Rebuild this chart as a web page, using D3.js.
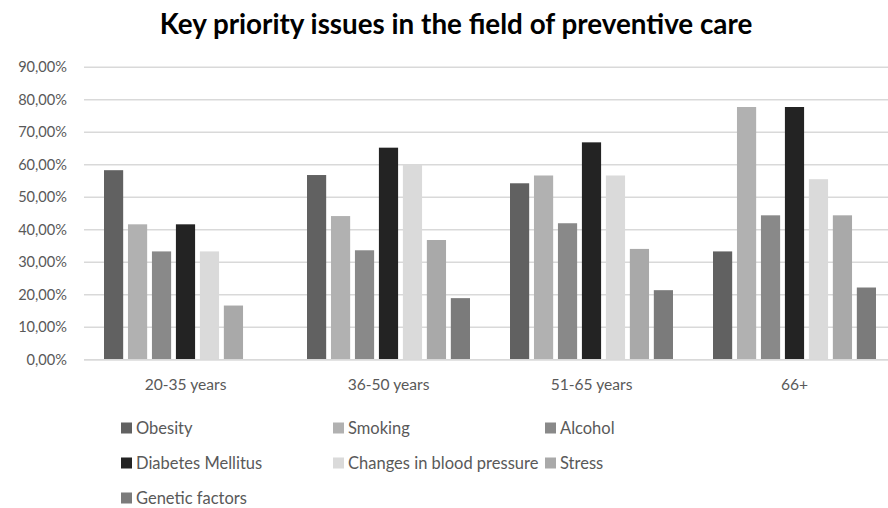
<!DOCTYPE html>
<html>
<head>
<meta charset="utf-8">
<script src="https://cdn.jsdelivr.net/npm/d3@7"></script>
<style>
  html, body { margin: 0; padding: 0; background: #fff; }
  svg { display: block; font-family: Lato, "Noto Sans", sans-serif; }
</style>
</head>
<body>
<svg id="chart" width="888" height="508"></svg>
<script>
// Age groups on the x axis
const groups = ["20-35 years", "36-50 years", "51-65 years", "66+"];

// Share of respondents naming each issue, per age group (fractions)
const obesity     = [0.5833, 0.5684, 0.5430, 0.3333];
const smoking     = [0.4167, 0.4421, 0.5670, 0.7778];
const alcohol     = [0.3333, 0.3368, 0.4200, 0.4444];
const diabetes    = [0.4167, 0.6526, 0.6690, 0.7778];
const bloodPress  = [0.3333, 0.6000, 0.5670, 0.5556];
const stress      = [0.1667, 0.3684, 0.3410, 0.4444];
const genetic     = [0.0000, 0.1895, 0.2140, 0.2222];

const seriesNames = ["Obesity", "Smoking", "Alcohol", "Diabetes Mellitus",
                     "Changes in blood pressure", "Stress", "Genetic factors"];
const seriesValues = [obesity, smoking, alcohol, diabetes, bloodPress, stress, genetic];
const seriesColors = ["#616161", "#b1b1b1", "#898989", "#232323",
                      "#dadada", "#a9a9a9", "#7b7b7b"];

const yTicks = [0, 0.1, 0.2, 0.3, 0.4, 0.5, 0.6, 0.7, 0.8, 0.9];

const svg = d3.select("#chart");

const plot = { left: 84, right: 896, top: 67.3, bottom: 359.7 };

const x0 = d3.scaleBand().domain(groups).range([plot.left, plot.right]);
const x1 = d3.scaleBand().domain(seriesNames)
  .range([20, x0.bandwidth() - 20]).paddingInner(0.2);
const y = d3.scaleLinear().domain([0, 0.9]).range([plot.bottom, plot.top]);

const fmt = v => d3.format(".2f")(v * 100).replace(".", ",") + "%";

// Title
svg.append("text")
  .attr("x", 456).attr("y", 34)
  .attr("text-anchor", "middle")
  .attr("font-weight", "bold")
  .attr("font-size", 27.8)
  .attr("fill", "#000")
  .text("Key priority issues in the field of preventive care");

// Horizontal gridlines
svg.append("g")
  .selectAll("line")
  .data(yTicks)
  .join("line")
  .attr("x1", plot.left).attr("x2", plot.right)
  .attr("y1", d => y(d)).attr("y2", d => y(d))
  .attr("stroke", "#d9d9d9")
  .attr("stroke-width", 1.5);

// Y axis labels
const yAxis = d3.axisLeft(y).tickValues(yTicks).tickFormat(fmt).tickSize(0).tickPadding(0);
const yg = svg.append("g").attr("transform", `translate(${plot.left - 17},0)`).call(yAxis);
yg.select(".domain").remove();
yg.selectAll("text").attr("font-size", 14.6).attr("fill", "#595959")
  .attr("font-family", "Lato, sans-serif");

// Bars
const rows = groups.map((g, i) => ({ group: g, vals: seriesNames.map((s, k) => ({ s, k, v: seriesValues[k][i] })) }));

svg.append("g")
  .selectAll("g")
  .data(rows)
  .join("g")
  .attr("transform", d => `translate(${x0(d.group)},0)`)
  .selectAll("rect")
  .data(d => d.vals.filter(e => e.v > 0))
  .join("rect")
  .attr("x", d => x1(d.s))
  .attr("width", x1.bandwidth())
  .attr("y", d => y(d.v))
  .attr("height", d => y(0) - y(d.v))
  .attr("fill", d => seriesColors[d.k]);

// X axis baseline
svg.append("line")
  .attr("x1", plot.left).attr("x2", plot.right)
  .attr("y1", y(0)).attr("y2", y(0))
  .attr("stroke", "#d9d9d9").attr("stroke-width", 1.5);

// X axis category labels
const xAxis = d3.axisBottom(x0).tickSize(0).tickPadding(0);
const xg = svg.append("g").attr("transform", `translate(0,${plot.bottom + 19})`).call(xAxis);
xg.select(".domain").remove();
xg.selectAll("text").attr("font-size", 15.6).attr("fill", "#595959")
  .attr("font-family", "Lato, sans-serif");

// Legend: three columns, an item slides right when the previous label runs long
const legendCols = [121, 333, 545];
const legendRows = [428, 463, 498];
const lg = svg.append("g");
let prevEnd = 0, prevRow = -1;
seriesNames.forEach((name, k) => {
  const r = Math.floor(k / 3), c = k % 3;
  let xPos = legendCols[c];
  if (r === prevRow && prevEnd + 3 > xPos) xPos = prevEnd + 3;
  const item = lg.append("g").attr("transform", `translate(${xPos},${legendRows[r]})`);
  item.append("rect").attr("x", 0).attr("y", -5.5).attr("width", 11).attr("height", 11)
    .attr("fill", seriesColors[k]);
  const t = item.append("text").attr("x", 15).attr("y", 0).attr("dy", "0.35em")
    .attr("font-size", 16.5).attr("fill", "#595959").text(name);
  prevEnd = xPos + 15 + t.node().getComputedTextLength();
  prevRow = r;
});
</script>
</body>
</html>
